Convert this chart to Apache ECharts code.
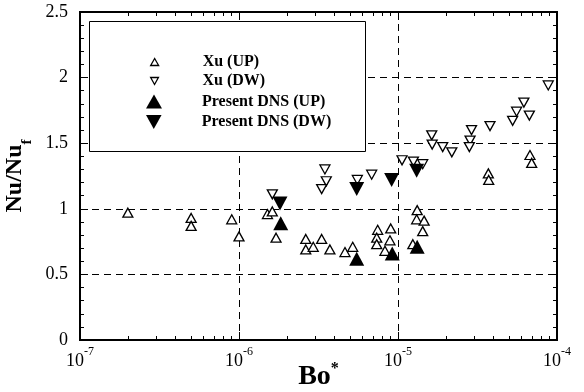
<!DOCTYPE html>
<html>
<head>
<meta charset="utf-8">
<script src="https://cdn.jsdelivr.net/npm/echarts@6/dist/echarts.min.js"></script>
<style>html,body{margin:0;padding:0;background:#fff}#c{width:584px;height:392px}</style>
</head>
<body>
<div id="c"></div>
<script>
// ---- data ----
var xuUpBo = [2.0e-7, 5.0e-7, 5.0e-7, 9.0e-7, 1.0e-6, 1.51e-6, 1.62e-6, 1.71e-6, 2.63e-6, 2.63e-6, 2.93e-6, 3.31e-6, 3.73e-6, 4.64e-6, 5.19e-6, 7.45e-6, 7.35e-6, 7.35e-6, 9.0e-6, 8.9e-6, 8.28e-6, 1.32e-5, 1.31e-5, 1.46e-5, 1.43e-5, 1.24e-5, 3.70e-5, 3.72e-5, 6.76e-5, 6.93e-5];
var xuUpNu = [0.97, 0.93, 0.87, 0.92, 0.79, 0.96, 0.98, 0.78, 0.77, 0.69, 0.71, 0.77, 0.69, 0.67, 0.71, 0.84, 0.78, 0.73, 0.85, 0.76, 0.68, 0.99, 0.92, 0.91, 0.83, 0.73, 1.27, 1.22, 1.41, 1.35];
var xuDwBo = [1.62e-6, 3.47e-6, 3.54e-6, 3.31e-6, 5.55e-6, 6.83e-6, 1.06e-5, 1.25e-5, 1.43e-5, 1.63e-5, 1.64e-5, 1.91e-5, 2.18e-5, 2.90e-5, 2.84e-5, 2.81e-5, 3.79e-5, 5.26e-5, 5.57e-5, 6.19e-5, 6.70e-5, 8.81e-5];
var xuDwNu = [1.11, 1.30, 1.21, 1.15, 1.22, 1.26, 1.37, 1.36, 1.34, 1.56, 1.49, 1.47, 1.43, 1.60, 1.52, 1.47, 1.63, 1.67, 1.74, 1.81, 1.71, 1.94];
var dnsUpBo = [1.83e-6, 5.5e-6, 9.2e-6, 1.32e-5];
var dnsUpNu = [0.89, 0.62, 0.66, 0.71];
var dnsDwBo = [1.81e-6, 5.5e-6, 9.12e-6, 1.31e-5];
var dnsDwNu = [1.04, 1.15, 1.22, 1.29];
var seriesNames = ['Xu (UP)', 'Xu (DW)', 'Present DNS (UP)', 'Present DNS (DW)'];
var xMin = 1e-7, xMax = 1e-4;
var yMin = 0, yMax = 2.5, yStep = 0.5;
var xMinorTicks = [];
[1e-7, 1e-6, 1e-5].forEach(function (d) { for (var k = 2; k <= 9; k++) xMinorTicks.push(k * d); });

function pairs(xs, ys) { return xs.map(function (x, i) { return [x, ys[i]]; }); }

var SERIF = '"Liberation Serif","Times New Roman",serif';
var UP = 'triangle';
var DOWN = 'path://M0,0L10,0L5,9Z';
var chart = echarts.init(document.getElementById('c'), null, { renderer: 'canvas' });

var dash = { color: '#000', width: 1, type: [7, 5] };
var GRID = { left: 80, right: 27, top: 12, bottom: 52, outerBoundsMode: 'none', containLabel: false };

function logAxis(pos, extra) {
  var a = {
    type: 'log', logBase: 10, min: xMin, max: xMax, position: pos,
    axisLine: { show: true, onZero: false, lineStyle: { color: '#000', width: 2 } },
    axisTick: { show: true, inside: true, length: 8, lineStyle: { color: '#000', width: 1 } },
    axisLabel: { show: false },
    splitLine: { show: false },
    minorTick: { show: false }
  };
  return Object.assign(a, extra || {});
}
function valAxis(pos, extra) {
  var a = {
    type: 'value', min: yMin, max: yMax, interval: yStep, position: pos,
    axisLine: { show: true, onZero: false, lineStyle: { color: '#000', width: 2 } },
    axisTick: { show: true, inside: true, length: 8, lineStyle: { color: '#000', width: 1 } },
    minorTick: { show: true, splitNumber: 5, length: 4, lineStyle: { color: '#000', width: 1 } },
    axisLabel: { show: false },
    splitLine: { show: false }
  };
  return Object.assign(a, extra || {});
}

var openStyle = { color: '#fff', borderColor: '#000', borderWidth: 1.3, opacity: 1 };
var fillStyle = { color: '#000', borderColor: '#000', borderWidth: 0, opacity: 1 };

function legendAt(name, icon, centerY, w, h, style) {
  var lh = 18;
  return {
    data: [{ name: name, icon: icon, itemStyle: style }],
    left: 154 - w / 2, top: centerY - lh / 2, padding: 0, orient: 'vertical',
    itemWidth: w, itemHeight: h, itemGap: 0, selectedMode: false, z: 10,
    itemStyle: { opacity: 1 },
    textStyle: { fontFamily: SERIF, fontWeight: 'bold', fontSize: 16, lineHeight: lh, color: '#000',
      padding: [0, 0, 0, 202 - (154 - w / 2) - w - 5] }
  };
}

var option = {
  animation: false,
  backgroundColor: '#fff',
  grid: [
    Object.assign({ show: true, borderColor: '#000', borderWidth: 2, backgroundColor: 'transparent' }, GRID),
    Object.assign({}, GRID)
  ],
  graphic: [{
    type: 'rect', z: 5, left: 89, top: 21,
    shape: { width: 276, height: 130 },
    style: { fill: '#fff', stroke: '#000', lineWidth: 1 }
  }],
  legend: [
    legendAt(seriesNames[0], UP, 62, 8, 7, openStyle),
    legendAt(seriesNames[1], DOWN, 81, 8, 7, openStyle),
    legendAt(seriesNames[2], UP, 101.5, 16, 14, fillStyle),
    legendAt(seriesNames[3], DOWN, 122, 16, 14, fillStyle)
  ],
  xAxis: [
    logAxis('bottom', {
      gridIndex: 0,
      name: '{a|Bo}{s|*}', nameLocation: 'middle', nameGap: 21, nameMoveOverlap: false,
      nameTextStyle: {
        rich: {
          a: { fontFamily: SERIF, fontWeight: 'bold', fontSize: 28, lineHeight: 30, color: '#000', verticalAlign: 'bottom' },
          s: { fontFamily: SERIF, fontWeight: 'bold', fontSize: 16, lineHeight: 16, color: '#000', verticalAlign: 'top' }
        }
      },
      axisLabel: {
        show: true, margin: 6, showMinLabel: true, showMaxLabel: true,
        formatter: function (v) { return '{b|10}{s|' + Math.round(Math.log10(v)) + '}'; },
        rich: {
          b: { fontFamily: SERIF, fontSize: 18, lineHeight: 24, color: '#000', verticalAlign: 'bottom' },
          s: { fontFamily: SERIF, fontSize: 12, lineHeight: 12, color: '#000', verticalAlign: 'top' }
        }
      },
      splitLine: { show: true, lineStyle: dash }
    }),
    logAxis('top', { gridIndex: 0 }),
    logAxis('bottom', { gridIndex: 1, axisLine: { show: false }, axisTick: { show: true, inside: true, length: 4, customValues: xMinorTicks, lineStyle: { color: '#000', width: 1 } } }),
    logAxis('top', { gridIndex: 1, axisLine: { show: false }, axisTick: { show: true, inside: true, length: 4, customValues: xMinorTicks, lineStyle: { color: '#000', width: 1 } } })
  ],
  yAxis: [
    valAxis('left', {
      gridIndex: 0,
      name: '{a|Nu/Nu}{f|f}', nameLocation: 'middle', nameGap: 44,
      nameTextStyle: {
        rich: {
          a: { fontFamily: SERIF, fontWeight: 'bold', fontSize: 24, lineHeight: 26, color: '#000', verticalAlign: 'top' },
          f: { fontFamily: SERIF, fontWeight: 'bold', fontSize: 15, lineHeight: 15, padding: [17, 0, 0, 0], color: '#000', verticalAlign: 'top' }
        }
      },
      axisLabel: { show: true, margin: 12, fontFamily: SERIF, fontSize: 18, color: '#000' },
      splitLine: { show: true, lineStyle: dash }
    }),
    valAxis('right', { gridIndex: 0 }),
    valAxis('left', { gridIndex: 1, axisLine: { show: false }, axisTick: { show: false }, minorTick: { show: false } })
  ],
  series: [
    { name: seriesNames[0], type: 'scatter', data: pairs(xuUpBo, xuUpNu), symbol: UP, symbolSize: [10, 9], itemStyle: openStyle, z: 3 },
    { name: seriesNames[1], type: 'scatter', data: pairs(xuDwBo, xuDwNu), symbol: DOWN, symbolSize: [10, 9], itemStyle: openStyle, z: 3 },
    { name: seriesNames[2], type: 'scatter', data: pairs(dnsUpBo, dnsUpNu), symbol: UP, symbolSize: [15, 14], itemStyle: fillStyle, z: 4 },
    { name: seriesNames[3], type: 'scatter', data: pairs(dnsDwBo, dnsDwNu), symbol: DOWN, symbolSize: [15, 14], itemStyle: fillStyle, z: 4 }
  ]
};
chart.setOption(option);
</script>
</body>
</html>
